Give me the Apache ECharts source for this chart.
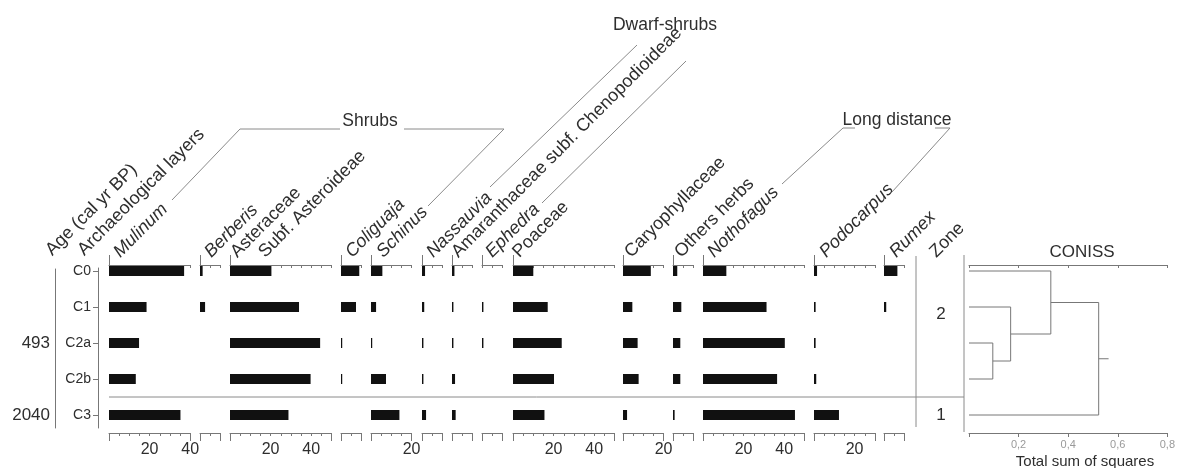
<!DOCTYPE html>
<html><head><meta charset="utf-8">
<script src="https://cdn.jsdelivr.net/npm/echarts@6/dist/echarts.min.js"></script>
<style>html,body{margin:0;padding:0;background:#fff}#c{width:1178px;height:468px}</style>
</head><body><div id="c"></div>
<script>
// ---------------- DATA ----------------
const layers = ['C0', 'C1', 'C2a', 'C2b', 'C3'];
const ages = ['', '', '493', '', '2040'];
const zones = ['2', '2', '2', '2', '1'];

const mulinum         = [37, 18.5, 14.8, 13.2, 35.2];
const berberis        = [1.3, 2.5, 0, 0, 0];
const asteraceae      = [20.4, 34, 44.4, 39.7, 28.8];
const coliguaja       = [9, 7.4, 0.6, 0.6, 0];
const schinus         = [5.6, 2.5, 0.6, 7.4, 14];
const nassauvia       = [1.5, 1.1, 0.7, 0.7, 2];
const amaranthaceae   = [1.2, 0.7, 0.7, 1.5, 1.8];
const ephedra         = [0, 0.7, 0.7, 0, 0];
const poaceae         = [10, 17.1, 24, 20.2, 15.5];
const caryophyllaceae = [13.7, 4.6, 7.2, 7.7, 2];
const othersHerbs     = [2.1, 4.1, 3.6, 3.6, 0.8];
const nothofagus      = [11.5, 31.3, 40.3, 36.5, 45.3];
const podocarpus      = [1.5, 0.8, 0.8, 1.1, 12.3];
const rumex           = [6.6, 1.1, 0, 0, 0];

const taxonNames = ['Mulinum', 'Berberis', 'Asteraceae|Subf. Asteroideae', 'Coliguaja', 'Schinus',
  'Nassauvia', 'Amaranthaceae subf. Chenopodioideae', 'Ephedra', 'Poaceae', 'Caryophyllaceae',
  'Others herbs', 'Nothofagus', 'Podocarpus', 'Rumex'];
const italicTaxa = ['Mulinum', 'Berberis', 'Coliguaja', 'Schinus', 'Nassauvia', 'Ephedra', 'Nothofagus', 'Podocarpus', 'Rumex'];
const panelData = [mulinum, berberis, asteraceae, coliguaja, schinus, nassauvia, amaranthaceae,
  ephedra, poaceae, caryophyllaceae, othersHerbs, nothofagus, podocarpus, rumex];
const axisMax = [40, 10, 50, 10, 20, 10, 10, 10, 50, 20, 10, 50, 30, 10];
const tickLabelValues = [20, 40];
const groupNames = ['Shrubs', 'Dwarf-shrubs', 'Long distance'];

// CONISS merges: [childA, childB, total sum of squares]; leaves 0-4, new nodes numbered from 5
const conissMerges = [[2, 3, 0.096], [1, 5, 0.168], [0, 6, 0.33], [7, 4, 0.523]];
const conissMax = 0.8;
const conissInterval = 0.2;

// ---------------- LAYOUT ----------------
const FONT = '"Liberation Sans", Arial, sans-serif';
const TXT = '#2e2e2e';
const LINE = '#777';
const GRID_TOP = 253, GRID_H = 180;
const PX = 2.03;
const panelLeft = [109, 200, 230, 341, 371, 422, 452, 482, 513, 623, 673, 703, 814, 884];
const labelDx = [14, 14, 10, 14, 15, 14, 9, 13, 9, 11, 11, 14, 15, 15];
const N = panelData.length;

const chart = echarts.init(document.getElementById('c'), null, {renderer: 'canvas'});

const grid = [], xAxis = [], yAxis = [], series = [];
for (let i = 0; i < N; i++) grid.push({left: panelLeft[i], top: GRID_TOP, width: axisMax[i] * PX, height: GRID_H});
for (let i = 0; i < N; i++) grid.push({left: panelLeft[i], top: GRID_TOP, width: axisMax[i] * PX, height: GRID_H});
const G_LAYER = 2 * N, G_AGE = 2 * N + 1, G_CON = 2 * N + 2;
grid.push({left: 98, top: 268, width: 1, height: 160});
grid.push({left: 55, top: 269, width: 1, height: 159});
grid.push({left: 969, top: GRID_TOP, width: conissMax * 253.75, height: GRID_H});

const lineStyle = {color: LINE, width: 1};
for (let i = 0; i < N; i++) {
  const M = axisMax[i];
  const lbls = tickLabelValues.filter(v => v <= M);
  xAxis.push({
    gridIndex: i, type: 'value', position: 'bottom', min: 0, max: M, interval: M,
    axisLine: {show: true, onZero: false, lineStyle},
    axisTick: {show: true, length: 8, lineStyle},
    minorTick: {show: true, splitNumber: M / 5, length: 3, lineStyle},
    axisLabel: lbls.length ? {show: true, customValues: lbls, fontSize: 16, color: TXT, fontFamily: FONT, margin: 9} : {show: false},
    splitLine: {show: false}, minorSplitLine: {show: false}
  });
  xAxis.push({
    gridIndex: i, type: 'value', position: 'top', offset: -12, min: 0, max: M, interval: M,
    axisLine: {show: true, onZero: false, lineStyle},
    axisTick: {show: true, inside: true, length: 3, lineStyle},
    minorTick: {show: true, splitNumber: M / 5, length: 3, lineStyle},
    axisLabel: {show: false}, splitLine: {show: false}
  });
  xAxis.push({
    gridIndex: N + i, type: 'value', position: 'top', offset: -12, min: 0, max: M,
    axisLine: {show: false, onZero: false},
    axisTick: {show: true, customValues: [0], length: 10, lineStyle},
    axisLabel: {show: false}, splitLine: {show: false}
  });
  yAxis.push({gridIndex: i, type: 'category', data: layers, inverse: true, show: false});
}
for (let i = 0; i < N; i++) yAxis.push({gridIndex: N + i, type: 'category', data: layers, inverse: true, show: false});

// layer axis
xAxis.push({gridIndex: G_LAYER, type: 'value', show: false, min: 0, max: 1});
yAxis.push({
  gridIndex: G_LAYER, type: 'value', inverse: true, min: -3 / 36, max: 157 / 36,
  axisLine: {show: true, onZero: false, lineStyle},
  axisTick: {show: true, customValues: layers.map((_, k) => k), length: 5, lineStyle},
  axisLabel: {show: true, customValues: layers.map((_, k) => k), formatter: v => layers[Math.round(v)],
    fontSize: 14, color: TXT, fontFamily: FONT, margin: 7},
  splitLine: {show: false}
});
// age axis
const ageIdx = ages.map((a, k) => a ? k : -1).filter(k => k >= 0);
xAxis.push({gridIndex: G_AGE, type: 'value', show: false, min: 0, max: 1});
yAxis.push({
  gridIndex: G_AGE, type: 'value', inverse: true, min: -2 / 36, max: 157 / 36,
  axisLine: {show: true, onZero: false, lineStyle},
  axisTick: {show: false},
  axisLabel: {show: true, customValues: ageIdx, formatter: v => ages[Math.round(v)],
    fontSize: 17, color: TXT, fontFamily: FONT, margin: 5},
  splitLine: {show: false}
});
// CONISS axes
const X_CON = xAxis.length;
xAxis.push({
  gridIndex: G_CON, type: 'value', position: 'bottom', min: 0, max: conissMax, interval: conissInterval,
  axisLine: {show: true, onZero: false, lineStyle}, axisTick: {show: true, length: 4, lineStyle},
  axisLabel: {show: true, fontSize: 11, color: '#9a9a9a', fontFamily: FONT, margin: 6,
    formatter: v => v === 0 ? '' : v.toFixed(1).replace('.', ',')},
  splitLine: {show: false}
});
xAxis.push({
  gridIndex: G_CON, type: 'value', position: 'top', offset: -12, min: 0, max: conissMax, interval: conissInterval,
  axisLine: {show: true, onZero: false, lineStyle}, axisTick: {show: true, inside: true, length: 3, lineStyle},
  axisLabel: {show: false}, splitLine: {show: false}
});
const Y_CON = yAxis.length;
yAxis.push({gridIndex: G_CON, type: 'value', inverse: true, min: -0.5, max: layers.length - 0.5, show: false,
  axisLine: {onZero: false}});

// bars
for (let i = 0; i < N; i++) {
  series.push({
    type: 'bar', xAxisIndex: 3 * i, yAxisIndex: i, data: panelData[i], barWidth: 10,
    itemStyle: {color: '#111'}, silent: true, animation: false
  });
}
// dendrogram
const nodes = layers.map((_, k) => ({x: 0, y: k}));
const dendro = [];
conissMerges.forEach(([a, b, h]) => {
  const A = nodes[a], B = nodes[b];
  dendro.push({coords: [[A.x, A.y], [h, A.y], [h, B.y], [B.x, B.y]]});
  nodes.push({x: h, y: (A.y + B.y) / 2});
});
const root = nodes[nodes.length - 1];
dendro.push({coords: [[root.x, root.y], [root.x + 0.04, root.y]]});
series.push({
  type: 'lines', coordinateSystem: 'cartesian2d', xAxisIndex: X_CON, yAxisIndex: Y_CON,
  polyline: true, data: dendro, lineStyle: {color: LINE, width: 1, opacity: 1}, silent: true, animation: false
});

chart.setOption({animation: false, grid, xAxis, yAxis, series});

// ---------------- DECORATION (text + leader lines) ----------------
const g = [];
function rotText(text, x, y, italic) {
  g.push({type: 'text', x: x, y: y, rotation: Math.PI / 4, silent: true,
    style: {text, fill: TXT, fontSize: 18, fontFamily: FONT, fontStyle: italic ? 'italic' : 'normal',
      align: 'left', verticalAlign: 'bottom'}});
}
function hText(text, x, y, size, color) {
  g.push({type: 'text', x, y, silent: true,
    style: {text, fill: color || TXT, fontSize: size, fontFamily: FONT, align: 'center', verticalAlign: 'middle'}});
}
function pline(pts) {
  g.push({type: 'polyline', silent: true, shape: {points: pts}, style: {stroke: '#8a8a8a', lineWidth: 1, fill: null}});
}
const BASE_Y = 261;
rotText('Age (cal yr BP)', 55, BASE_Y - 2, false);
rotText('Archaeological layers', 87, BASE_Y - 2, false);
taxonNames.forEach((nm, i) => {
  const parts = nm.split('|');
  const x0 = chart.convertToPixel({xAxisIndex: 3 * i}, 0);
  rotText(parts[0], x0 + labelDx[i], BASE_Y, italicTaxa.includes(parts[0]));
  if (parts[1]) rotText(parts[1], x0 + labelDx[i] + 28, BASE_Y, false);
});
rotText('Zone', 939, BASE_Y, false);

// group labels and leader lines
hText(groupNames[0], 370, 121, 17.5);
hText(groupNames[1], 665, 25, 17.5);
hText(groupNames[2], 897, 120, 17.5);
pline([[172, 200], [240, 129], [340, 129]]);
pline([[404, 129], [504, 129], [428, 206]]);
pline([[637, 45], [490, 187]]);
pline([[686, 61], [542, 203]]);
pline([[855, 128], [843, 128], [782, 184]]);
pline([[935, 128], [950, 128], [892, 192]]);

// zone column
let boundary = 0;
for (let k = 1; k < zones.length; k++) if (zones[k] !== zones[k - 1]) boundary = k - 0.5;
const sepY = chart.convertToPixel({yAxisIndex: Y_CON}, boundary);
const conX0 = chart.convertToPixel({xAxisIndex: X_CON}, 0);
g.push({type: 'line', silent: true, shape: {x1: panelLeft[0], y1: sepY, x2: conX0 - 5, y2: sepY}, style: {stroke: '#8a8a8a', lineWidth: 1}});
g.push({type: 'line', silent: true, shape: {x1: 916, y1: 256, x2: 916, y2: 427}, style: {stroke: '#8a8a8a', lineWidth: 1}});
g.push({type: 'line', silent: true, shape: {x1: conX0 - 5, y1: 255, x2: conX0 - 5, y2: 432}, style: {stroke: '#8a8a8a', lineWidth: 1}});
const zoneLabelRow = {'2': 1.2, '1': 4};
Object.keys(zoneLabelRow).forEach(z => {
  hText(z, 941, chart.convertToPixel({yAxisIndex: Y_CON}, zoneLabelRow[z]), 17);
});
hText('CONISS', 1082, 252, 17);
hText('Total sum of squares', 1085, 462, 15);

chart.setOption({graphic: g});
</script>
</body></html>
